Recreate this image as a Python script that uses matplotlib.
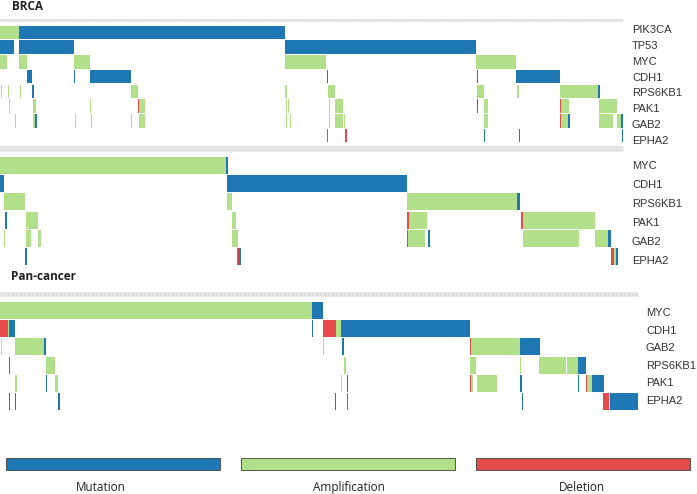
import matplotlib
matplotlib.use("Agg")
import matplotlib.pyplot as plt
from matplotlib.transforms import blended_transform_factory

# ---------------- data ----------------
# segments: (start_sample, end_sample, kind)  M=mutation, A=amplification, D=deletion
brca_n_samples = 623
brca_genes = ["PIK3CA", "TP53", "MYC", "CDH1", "RPS6KB1", "PAK1", "GAB2", "EPHA2"]
brca_pik3ca = [(0, 19, "A"), (19, 285, "M")]
brca_tp53 = [(0, 14, "M"), (19, 74, "M"), (285, 476, "M")]
brca_myc = [(0, 7, "A"), (19, 27, "A"), (74, 90, "A"), (285, 326, "A"), (476, 516, "A")]
brca_cdh1 = [(27, 32, "M"), (74, 75, "M"), (90, 131, "M"), (326.5, 327.5, "M"),
             (476.5, 477.5, "M"), (516, 560, "M")]
brca_rps6kb1 = [(1, 2, "A"), (8, 9, "A"), (19.5, 20.5, "A"), (32, 34, "M"), (131, 138, "A"),
                (285, 287, "A"), (328, 335, "A"), (477, 484, "A"), (517, 519, "A"),
                (560, 598, "A"), (598, 600, "M")]
brca_pak1 = [(9, 10, "A"), (33, 35.5, "A"), (90, 91, "A"), (138, 139, "D"), (139, 145, "A"),
             (286, 287, "A"), (288, 289, "A"), (329, 330, "A"), (335, 343, "A"),
             (477, 478, "M"), (484, 488, "A"), (560, 561, "D"), (561, 569, "A"), (599, 617, "A")]
brca_gab2 = [(15, 16, "A"), (33, 35, "A"), (35, 36.5, "M"), (75, 76, "A"), (90.5, 91.5, "A"),
             (131, 132, "A"), (139, 145, "A"), (286, 287, "A"), (290, 291, "A"),
             (328.5, 329.5, "A"), (335, 343, "A"), (344, 345, "A"), (484, 488, "A"),
             (560, 561, "D"), (561, 568, "A"), (568, 570, "M"), (599, 613, "A"),
             (617, 621, "A"), (621, 622.5, "M")]
brca_epha2 = [(327, 328, "D"), (345, 346.5, "D"), (484, 485, "M"), (519, 520, "M"), (622, 623, "M")]

sub_n_samples = 623
sub_genes = ["MYC", "CDH1", "RPS6KB1", "PAK1", "GAB2", "EPHA2"]
sub_myc = [(0, 226, "A"), (226, 227.5, "M")]
sub_cdh1 = [(0, 4, "M"), (227, 407, "M")]
sub_rps6kb1 = [(4, 25, "A"), (227, 232, "A"), (407, 517, "A"), (517, 520, "M")]
sub_pak1 = [(5, 7, "M"), (26, 38, "A"), (232, 236, "A"), (407, 409, "D"), (409, 427, "A"),
            (521, 523, "D"), (523, 595, "A")]
sub_gab2 = [(4, 5, "A"), (26, 31, "A"), (38, 41, "A"), (232, 238, "A"), (407, 408, "D"),
            (408, 425, "A"), (428, 430, "M"), (523, 579, "A"), (595, 608, "A"), (608, 611, "M")]
sub_epha2 = [(25, 27, "M"), (237, 239, "D"), (239, 241, "M"), (611, 614, "D"),
             (614, 616, "A"), (616, 617.5, "M")]

pan_n_samples = 638
pan_genes = ["MYC", "CDH1", "GAB2", "RPS6KB1", "PAK1", "EPHA2"]
pan_myc = [(0, 312, "A"), (312, 323, "M")]
pan_cdh1 = [(0, 8, "D"), (8, 9, "A"), (9, 15, "M"), (312, 313, "M"), (323, 336, "D"),
            (336, 341, "A"), (341, 470, "M")]
pan_gab2 = [(1, 2, "A"), (15, 44, "A"), (44, 46, "M"), (323, 324, "A"), (342, 344, "M"),
            (470, 471, "D"), (471, 520, "A"), (520, 540, "M")]
pan_rps6kb1 = [(9, 10, "M"), (46, 55, "A"), (344, 346, "A"), (470, 476, "A"), (520, 521, "A"),
               (539, 566, "A"), (567, 578, "A"), (578, 586, "M")]
pan_pak1 = [(15, 17, "A"), (46, 47, "M"), (55, 58, "A"), (341, 342, "A"), (347, 348, "M"),
            (470, 471, "D"), (471, 473, "A"), (477, 497, "A"), (520, 522, "M"),
            (578, 579, "M"), (586, 587, "D"), (587, 592, "A"), (592, 604, "M")]
pan_epha2 = [(9, 10, "M"), (15, 16, "M"), (58, 60, "M"), (335, 336, "M"), (347, 348, "D"),
             (522, 523, "M"), (603, 609, "D"), (609, 610, "A"), (610, 638, "M")]

legend_labels = ["Mutation", "Amplification", "Deletion"]
legend_kinds = ["M", "A", "D"]

# ---------------- style ----------------
COLORS = {"M": "#1f78b4", "A": "#b2df8a", "D": "#e34a4a"}
W, H = 697, 494
fig = plt.figure(figsize=(W / 100, H / 100), dpi=100)


def add_panel(px_left, px_top, px_width, px_bottom, genes, rows, n_samples,
              band_ys, band_lw, label_x_px, label_off, label_step):
    ax = fig.add_axes([px_left / W, 1 - px_bottom / H, px_width / W, (px_bottom - px_top) / H])
    n = len(genes)
    for i, segs in enumerate(rows):
        for (s, e, k) in segs:
            ax.barh(i + 0.04, e - s, left=s, height=0.92, align="edge",
                    color=COLORS[k], linewidth=0)
    ax.set_xlim(0, n_samples)
    ax.set_ylim(n, 0)
    ax.axis("off")
    for by in band_ys:
        ax.plot([0, n_samples], [by, by], color="#e8e8e8", lw=band_lw,
                solid_capstyle="butt", clip_on=False)
        ax.plot([0, n_samples], [by, by], color="#d6d6d6", lw=band_lw * 0.5,
                dashes=(0.6, 1.0), clip_on=False)
    tr = blended_transform_factory(ax.transAxes, ax.transData)
    for i, g in enumerate(genes):
        ax.text(label_x_px / px_width, label_off + i * label_step, g, transform=tr,
                ha="left", va="center", fontsize=8, color="#333333",
                family="Liberation Sans")
    return ax


add_panel(0, 25, 623, 143, brca_genes,
          [brca_pik3ca, brca_tp53, brca_myc, brca_cdh1, brca_rps6kb1, brca_pak1,
           brca_gab2, brca_epha2],
          brca_n_samples, [-0.37, 8.27], 2.2, 632, 0.36, 1.07)

add_panel(0, 156, 623, 266, sub_genes,
          [sub_myc, sub_cdh1, sub_rps6kb1, sub_pak1, sub_gab2, sub_epha2],
          sub_n_samples, [-0.33], 2.2, 632, 0.55, 1.03)

add_panel(0, 301, 638, 411, pan_genes,
          [pan_myc, pan_cdh1, pan_gab2, pan_rps6kb1, pan_pak1, pan_epha2],
          pan_n_samples, [-0.38], 3.6, 646, 0.65, 0.96)

fig.text(12 / W, 1 - 7 / H, "BRCA", fontsize=8.5, fontweight="bold",
         family="Open Sans", color="#222222", ha="left", va="center")
fig.text(11 / W, 1 - 277 / H, "Pan-cancer", fontsize=8.5, fontweight="bold",
         family="Open Sans", color="#222222", ha="left", va="center")

# legend
lax = fig.add_axes([0, 0, 1, 1], zorder=-1)
lax.set_xlim(0, W)
lax.set_ylim(H, 0)
lax.axis("off")
rect_lefts = [6, 241, 476]
label_xs = [101, 349, 582]
for lbl, k, x0, lx in zip(legend_labels, legend_kinds, rect_lefts, label_xs):
    lax.barh(458, 214, left=x0, height=12, align="edge", color=COLORS[k],
             edgecolor="#404040", linewidth=0.6)
    lax.text(lx, 487, lbl, ha="center", va="center", fontsize=8.5,
             family="Open Sans", color="#222222")

fig.savefig("out.png", dpi=100)
